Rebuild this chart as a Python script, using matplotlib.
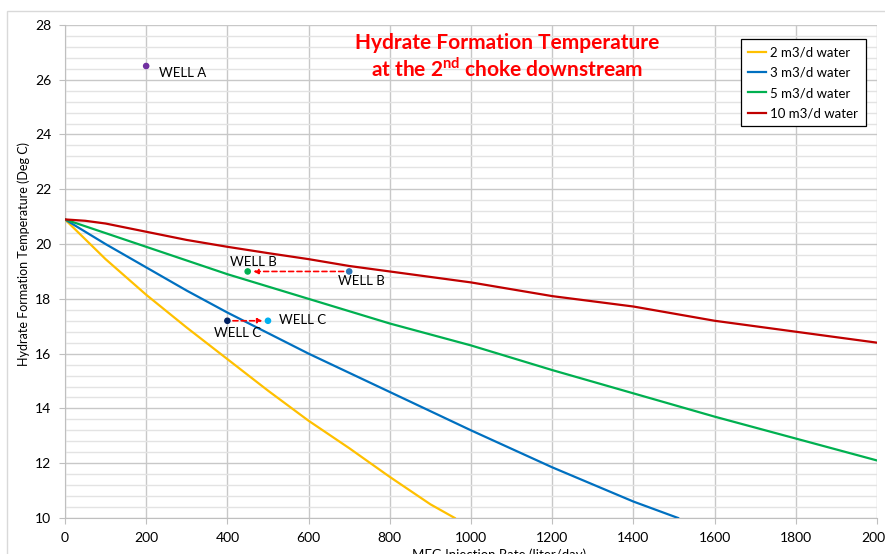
import matplotlib
matplotlib.use("Agg")
import matplotlib.pyplot as plt
from matplotlib.patches import Rectangle
from matplotlib.ticker import MultipleLocator

plt.rcParams['font.family'] = ['Lato', 'DejaVu Sans']
plt.rcParams['mathtext.fontset'] = 'custom'
plt.rcParams['mathtext.rm'] = 'Lato'
plt.rcParams['mathtext.bf'] = 'Lato:bold'

# curve data (MEG rate in liter/day, temperature in deg C)
x_2 = [0, 100, 200, 300, 400, 500, 600, 700, 800, 900, 960]
t_2 = [20.9, 19.45, 18.15, 16.95, 15.8, 14.65, 13.55, 12.55, 11.5, 10.5, 10.0]

x_3 = [0, 100, 200, 300, 400, 500, 600, 700, 800, 900, 1000, 1200, 1400, 1510]
t_3 = [20.9, 20.0, 19.15, 18.3, 17.5, 16.75, 16.0, 15.3, 14.6, 13.9, 13.2, 11.85, 10.6, 10.0]

x_5 = [0, 100, 200, 300, 400, 500, 600, 700, 800, 900, 1000, 1200, 1400, 1600, 1800, 2000]
t_5 = [20.9, 20.4, 19.9, 19.4, 18.9, 18.45, 18.0, 17.55, 17.1, 16.7, 16.3, 15.4, 14.55, 13.7, 12.9, 12.1]

x_10 = [0, 50, 100, 150, 200, 300, 400, 500, 600, 700, 800, 900, 1000, 1200, 1400, 1600, 1800, 2000]
t_10 = [20.9, 20.85, 20.75, 20.6, 20.45, 20.15, 19.9, 19.67, 19.45, 19.2, 19.0, 18.8, 18.6, 18.1, 17.72, 17.2, 16.8, 16.4]

labels = ['2 m3/d water', '3 m3/d water', '5 m3/d water', '10 m3/d water']
colors = ['#FFC000', '#0070C0', '#00B050', '#C00000']

# well points
well_x = [200, 450, 700, 400, 500]
well_t = [26.5, 19.0, 19.0, 17.2, 17.2]
well_c = ['#7030A0', '#00B050', '#2E75B6', '#002060', '#00B0F0']
well_names = ['WELL A', 'WELL B', 'WELL B', 'WELL C', 'WELL C']

fig = plt.figure(figsize=(8.85, 5.54), dpi=100)
ax = fig.add_axes([0.0734, 0.065, 0.9176, 0.890])

# Excel chart-area border
fig.patches.append(Rectangle((0.008, -0.1), 1.1, 1.08, transform=fig.transFigure,
                             fill=False, edgecolor='#D9D9D9', linewidth=1))

for xs, ts, lab, c in zip([x_2, x_3, x_5, x_10], [t_2, t_3, t_5, t_10], labels, colors):
    ax.plot(xs, ts, color=c, linewidth=1.6, label=lab, zorder=3)

ax.scatter(well_x, well_t, s=14, c=well_c, zorder=4)

# arrows
arr = dict(arrowstyle='-|>', linestyle=(0, (3, 2)), color='#FF0000', lw=1.2,
           mutation_scale=7, shrinkA=4, shrinkB=4)
ax.annotate('', xy=(well_x[1], well_t[1]), xytext=(well_x[2], well_t[2]), arrowprops=arr)
ax.annotate('', xy=(well_x[4], well_t[4]), xytext=(well_x[3], well_t[3]), arrowprops=arr)

# point labels
fs = 9.5
ax.text(well_x[0] + 32, well_t[0] - 0.05, well_names[0], fontsize=fs, va='top', ha='left')
ax.text(well_x[1] + 15, well_t[1] + 0.12, well_names[1], fontsize=fs, va='bottom', ha='center')
ax.text(well_x[2] + 30, well_t[2] - 0.13, well_names[2], fontsize=fs, va='top', ha='center')
ax.text(well_x[3] + 25, well_t[3] - 0.22, well_names[3], fontsize=fs, va='top', ha='center')
ax.text(well_x[4] + 28, well_t[4] + 0.02, well_names[4], fontsize=fs, va='center', ha='left')

# title
ax.text(0.545, 0.963, 'Hydrate Formation Temperature', transform=ax.transAxes,
        color='#FF0000', fontsize=15, fontweight='bold', ha='center', va='center')
ax.text(0.545, 0.911, r'at the 2$^{\mathbf{nd}}$ choke downstream', transform=ax.transAxes,
        color='#FF0000', fontsize=15, fontweight='bold', ha='center', va='center')

ax.set_xlim(0, 2000)
ax.set_ylim(10, 28)
ax.xaxis.set_major_locator(MultipleLocator(200))
ax.yaxis.set_major_locator(MultipleLocator(2))
ax.yaxis.set_minor_locator(MultipleLocator(0.4))
ax.grid(which='major', color='#C8C8C8', linewidth=1.0)
ax.grid(which='minor', axis='y', color='#E3E3E3', linewidth=1.0)
ax.set_axisbelow(True)
ax.tick_params(which='major', length=4, color='#BFBFBF', labelsize=10, pad=6)
ax.tick_params(which='minor', length=0)
for s in ['top', 'right']:
    ax.spines[s].set_visible(False)
for s in ['left', 'bottom']:
    ax.spines[s].set_color('#BFBFBF')

ax.set_xlabel('MEG Injection Rate (liter/day)', fontsize=9.5)
ax.xaxis.set_label_coords(0.534, -0.062)
ax.set_ylabel('Hydrate Formation Temperature (Deg C)', fontsize=9)
ax.yaxis.set_label_coords(-0.043, 0.535)

leg = ax.legend(loc='upper left', bbox_to_anchor=(0.824, 0.984), fontsize=9.5,
                fancybox=False, edgecolor='black', framealpha=1, handlelength=1.4,
                handletextpad=0.3, borderpad=0.55, labelspacing=0.62)
leg.get_frame().set_linewidth(0.9)

fig.savefig('out.png', dpi=100)
